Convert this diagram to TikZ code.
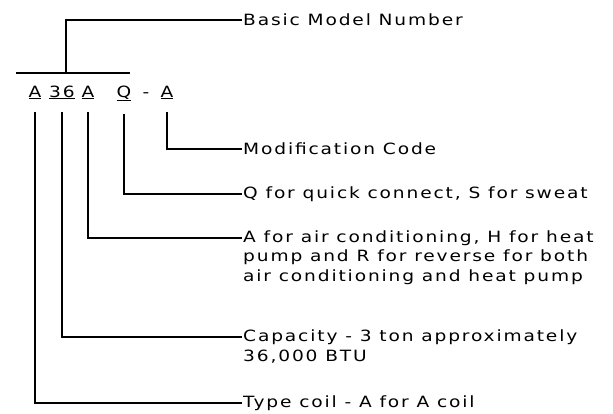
\documentclass[tikz,border=0pt]{standalone}
\usepackage{fontspec}
\newfontfamily\labelfont[LetterSpace=12,FakeStretch=1.2]{DejaVu Sans}
\usepackage{tikz}
\tikzset{
  lead/.style={line width=1.6pt},
  code/.style={font=\labelfont\fontsize{15.5}{18}\selectfont, inner sep=1pt, anchor=base},
  lbl/.style={font=\labelfont\fontsize{15.5}{18}\selectfont, inner sep=1pt, anchor=west}
}

\begin{document}
\begin{tikzpicture}[x=1pt, y=-1pt]
  \useasboundingbox (0,0) rectangle (613,413);
  % model number letters
  \node[code] (c1) at (35,97) {\underline{A}};
  \node[code] (c2) at (62,97) {\underline{36}};
  \node[code] (c3) at (88,97) {\underline{A}};
  \node[code] (c4) at (124,97) {\underline{Q}};
  \node[code] (dash) at (146,97) {-};
  \node[code] (c5) at (167,97) {\underline{A}};
  % descriptions
  \node[lbl] (basic) at (242,20) {Basic Model Number};
  \node[lbl] (mod) at (242,149) {Modification Code};
  \node[lbl] (quick) at (242,194) {Q for quick connect, S for sweat};
  \node[lbl] (air) at (242,238) {A for air conditioning, H for heat};
  \node[lbl] (air2) at ([yshift=-19.5pt]air.west) {pump and R for reverse for both};
  \node[lbl] (air3) at ([yshift=-19.5pt]air2.west) {air conditioning and heat pump};
  \node[lbl] (cap) at (242,337) {Capacity - 3 ton approximately};
  \node[lbl] (cap2) at ([yshift=-19.5pt]cap.west) {36,000 BTU};
  \node[lbl] (type) at (242,403) {Type coil - A for A coil};
  % bracket over the number
  \coordinate (bl) at (16,73);
  \coordinate (br) at (130,73);
  \coordinate (bm) at (66,73);
  \draw[lead] (bl) -- (br);
  \draw[lead] (bm) |- (basic.west);
  % leaders
  \draw[lead] ([yshift=-12pt]c5.south) |- (mod.west);
  \draw[lead] ([yshift=-12pt]c4.south) |- (quick.west);
  \draw[lead] ([yshift=-12pt]c3.south) |- (air.west);
  \draw[lead] ([yshift=-12pt]c2.south) |- (cap.west);
  \draw[lead] ([yshift=-12pt]c1.south) |- (type.west);
\end{tikzpicture}
\end{document}
